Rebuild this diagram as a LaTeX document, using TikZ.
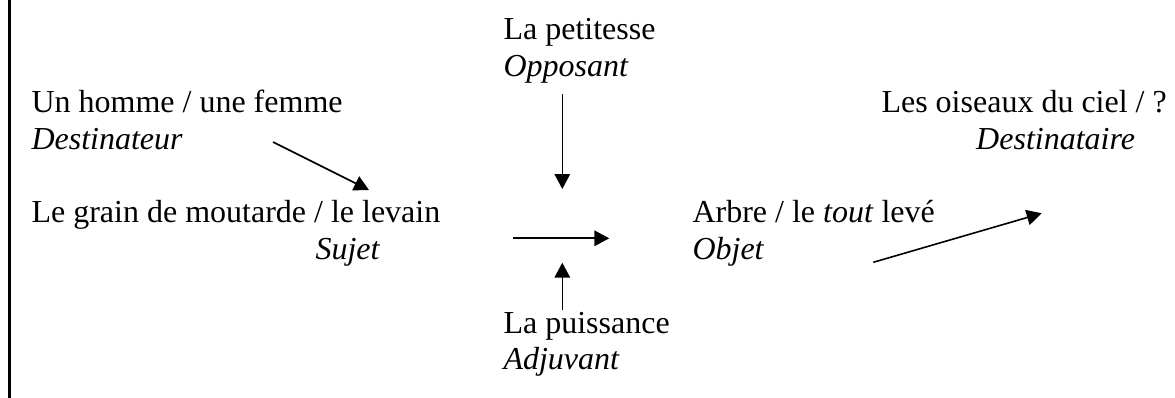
\documentclass[tikz,border=0pt]{standalone}
\usepackage{fontspec}
\setmainfont{Liberation Serif}
\usetikzlibrary{arrows.meta}

\tikzset{
    texte/.style={anchor=base west, inner sep=0pt, font=\fontsize{12pt}{14pt}\selectfont},
    fleche/.style={-{Triangle[length=5.6pt,width=5.8pt]}, line width=0.6pt}
}

\begin{document}
\begin{tikzpicture}[x=0.375pt, y=-0.375pt]
            \useasboundingbox (0, 0) rectangle (1175, 398);

            % trait vertical a gauche
            \coordinate (M1) at (9.7, 0);
            \coordinate (M2) at (9.7, 398);
            \draw[line width=1pt] (M1) -- (M2);

            \node[texte] (destA) at (31, 112.7) { Un homme / une femme };
            \node[texte] (destB) at (31, 150) { \textit{Destinateur} };

            \node[texte] (sujA) at (31, 222.7) { Le grain de moutarde / le levain };
            \node[texte] (sujB) at (315, 260) { \textit{Sujet} };

            \node[texte] (oppA) at (503, 40) { La petitesse };
            \node[texte] (oppB) at (503, 76.5) { \textit{Opposant} };

            \node[texte] (adjA) at (503, 333.3) { La puissance };
            \node[texte] (adjB) at (503, 370) { \textit{Adjuvant} };

            \node[texte] (objA) at (692, 222.7) { Arbre / le \textit{tout} levé };
            \node[texte] (objB) at (692, 259.3) { \textit{Objet} };

            \node[texte] (dsaA) at (881, 112.7) { Les oiseaux du ciel / ? };
            \node[texte] (dsaB) at (975.7, 150) { \textit{Destinataire} };

            \coordinate (F1a) at (273, 142);
            \coordinate (F1b) at (369, 190);
            \coordinate (F2a) at (562.3, 94);
            \coordinate (F2b) at (562.3, 189);
            \coordinate (F3a) at (513.3, 238.3);
            \coordinate (F3b) at (609.3, 238.3);
            \coordinate (F4a) at (562.3, 310);
            \coordinate (F4b) at (562.3, 262.7);
            \coordinate (F5a) at (873.3, 262.3);
            \coordinate (F5b) at (1041.7, 213.3);

            \draw[fleche] (F1a) -- (F1b);
            \draw[fleche] (F2a) -- (F2b);
            \draw[fleche] (F3a) -- (F3b);
            \draw[fleche] (F4a) -- (F4b);
            \draw[fleche] (F5a) -- (F5b);
\end{tikzpicture}
\end{document}
